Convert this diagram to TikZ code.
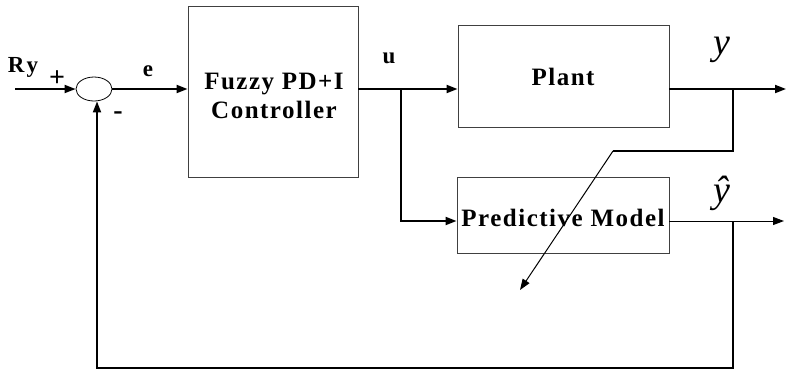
\documentclass[tikz,border=0pt]{standalone}
\usepackage{fontspec}
\setmainfont{Liberation Serif}
\newfontfamily\boxfont[LetterSpace=6]{Liberation Serif}
\newfontfamily\labfont[LetterSpace=12]{Liberation Serif}
\usetikzlibrary{arrows.meta,shapes.geometric}
\begin{document}
\begin{tikzpicture}[x=1pt,y=1pt,
  block/.style={draw=black!75,line width=0.9pt,rectangle,inner sep=0pt},
  blocktext/.style={font=\boxfont\bfseries\fontsize{25}{29}\selectfont,align=center,inner sep=0pt},
  thick line/.style={line width=1.9pt},
  thin line/.style={line width=1pt},
  tip/.style={-{Triangle[length=11pt,width=8pt]}},
  lab/.style={font=\labfont\bfseries\fontsize{23}{25}\selectfont,inner sep=0pt},
  signlab/.style={font=\bfseries\fontsize{28}{30}\selectfont,inner sep=0pt},
  sig/.style={font=\itshape\fontsize{38}{40}\selectfont,inner sep=0pt}]
\useasboundingbox (0,0) rectangle (786,-370);

% blocks
\node[draw=black,line width=0.8pt,ellipse,minimum width=36pt,minimum height=24pt,inner sep=0pt] (sum) at (94,-89) {};
\node[block,minimum width=170pt,minimum height=171pt] (ctrl) at (273,-91.5) {};
\node[blocktext] (ctrltext) at (274,-96) {Fuzzy PD+I\\[0pt]Controller};
\node[block,minimum width=211pt,minimum height=102pt] (plant) at (563.5,-76) {};
\node[blocktext] (planttext) at (563,-77) {Plant};
\node[block,minimum width=212pt,minimum height=76pt] (model) at (563,-215) {};
\node[blocktext] (modeltext) at (563,-218) {Predictive Model};

% reference points of the signal lines
\coordinate (in) at (15,-89);
\coordinate (ub) at (401,-89);
\coordinate (yb) at (733,-89);
\coordinate (yout) at (786,-89);
\coordinate (ybend) at (733,-151);
\coordinate (dstart) at (613,-151);
\coordinate (dend) at (520,-290);
\coordinate (hb) at (733,-221);
\coordinate (hout) at (784,-221);
\coordinate (fbr) at (733,-368);
\coordinate (fbl) at (97,-368);

% forward path
\draw[thick line,tip] (in) -- (sum.west);
\draw[thick line,tip] (sum.east) -- (sum.east -| ctrl.west);
\draw[thick line,tip] (ub -| ctrl.east) -- (ub -| plant.west);
\draw[thick line,tip] (ub) |- (hb -| model.west);
\draw[thick line,tip] (yb -| plant.east) -- (yout);
\draw[thin line,tip] (hb -| model.east) -- (hout);

% model adaptation
\draw[thick line] (yb) -- (ybend) -- (dstart);
\draw[thin line,tip] (dstart) -- (dend);

% feedback
\draw[thick line,tip] (hb) -- (fbr) -- (fbl) -- (fbl |- sum.south);

% labels
\node[lab] (ry) at (23,-67) {Ry};
\node[signlab] (plus) at (57,-79) {+};
\node[signlab] (minus) at (118,-116) {-};
\node[lab] (e) at (148,-71) {e};
\node[lab] (u) at (389,-58) {u};
\node[sig] (y) at (722,-50) {y};
\node[sig] (yh) at (722,-193) {ŷ};
\end{tikzpicture}
\end{document}
